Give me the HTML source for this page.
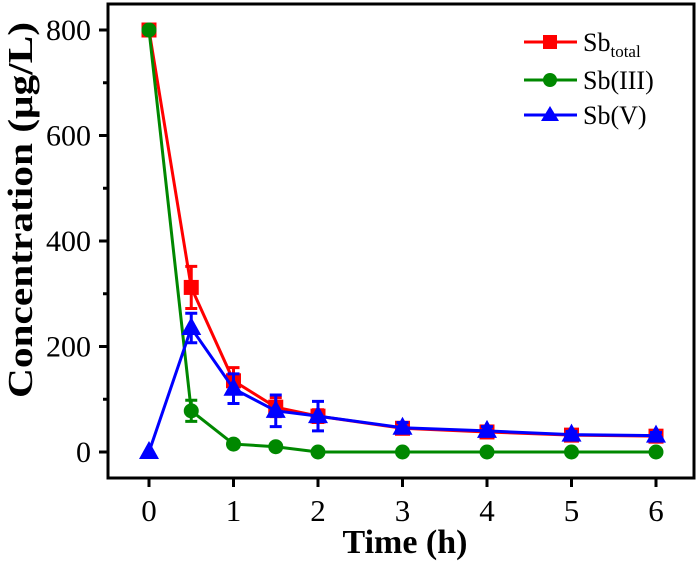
<!DOCTYPE html>
<html><head><meta charset="utf-8"><style>
body{margin:0;background:#fff}
svg{display:block;font-family:"Liberation Serif",serif}
</style></head><body>
<svg width="700" height="562">
<g id="plot"></g>
<rect x="108" y="4" width="586" height="474" fill="none" stroke="#000" stroke-width="3"/>
<g id="axes"></g>
<text x="405" y="553" text-anchor="middle" font-size="34" font-weight="bold">Time (h)</text>
<text transform="translate(32,210) rotate(-90)" text-anchor="middle" font-size="35" font-weight="bold" textLength="376" lengthAdjust="spacingAndGlyphs">Concentration (μg/L)</text>
<g>
<g>
<line x1="524" y1="42" x2="577" y2="42" stroke="#f00" stroke-width="3"/><rect x="543" y="35" width="14" height="14" fill="#f00"/>
<text x="583" y="51" font-size="26">Sb<tspan font-size="17" dy="6">total</tspan></text></g>
<g>
<line x1="524" y1="80" x2="577" y2="80" stroke="#080" stroke-width="3"/><circle cx="550" cy="80" r="7" fill="#080"/>
<text x="583" y="89" font-size="26">Sb(III)</text></g>
<g>
<line x1="524" y1="115" x2="577" y2="115" stroke="#00f" stroke-width="3"/><polygon points="550,106 559,121 541,121" fill="#00f"/>
<text x="583" y="124" font-size="26">Sb(V)</text></g>
</g>
</svg>
<script>
const times=[0,0.5,1,1.5,2,3,4,5,6];
const sbTotal=[800,312,135,85,68,45,38,32,30];
const sbTotalErr=[0,40,25,18,12,8,8,6,6];
const sb3=[800,78,15,10,0,0,0,0,0];
const sb3Err=[0,20,4,3,0,0,0,0,0];
const sb5=[0,235,120,78,68,46,40,33,31];
const sb5Err=[0,28,28,30,28,10,8,6,6];
const xTicks=[0,1,2,3,4,5,6];
const yTicks=[0,200,400,600,800];
const NS="http://www.w3.org/2000/svg";
const X=v=>149+v*84.5, Y=v=>452-v*0.5275;
function mk(tag,attrs,parent){const e=document.createElementNS(NS,tag);for(const k in attrs)e.setAttribute(k,attrs[k]);parent.appendChild(e);return e;}
const axes=document.getElementById('axes'), plot=document.getElementById('plot');
xTicks.forEach(t=>{
 const l=mk('line',{x1:X(t),x2:X(t),y1:478,y2:487,stroke:'#000','stroke-width':3},axes);
 
 
 const tx=mk('text',{x:X(t),y:521,'text-anchor':'middle','font-size':31},axes);tx.textContent=t;
 
 
});
for(let v=0;v<=800;v+=100){
 const major=v%200===0;
 const l=mk('line',{x1:major?99:103,x2:108,y1:Y(v),y2:Y(v),stroke:'#000','stroke-width':3},axes);
 
 
}
yTicks.forEach(t=>{
 const tx=mk('text',{x:91,y:Y(t)+10,'text-anchor':'end','font-size':30},axes);tx.textContent=t;
 
 
});
function series(name,vals,errs,color,marker){
 const g=mk('g',{},plot);
 
 
 mk('polyline',{points:times.map((t,i)=>X(t)+','+Y(vals[i])).join(' '),fill:'none',stroke:color,'stroke-width':3},g);
 times.forEach((t,i)=>{
  const x=X(t),y=Y(vals[i]);
  if(errs[i]>0){const e=errs[i];
   mk('path',{d:`M${x},${Y(vals[i]+e)}V${Y(vals[i]-e)}M${x-6},${Y(vals[i]+e)}H${x+6}M${x-6},${Y(vals[i]-e)}H${x+6}`,stroke:color,'stroke-width':3,fill:'none'},g);}
  let m;
  if(marker==='sq')m=mk('rect',{x:x-7.5,y:y-7.5,width:15,height:15,fill:color},g);
  else if(marker==='c')m=mk('circle',{cx:x,cy:y,r:7.5,fill:color},g);
  else m=mk('polygon',{points:`${x},${y-11} ${x+10},${y+7} ${x-10},${y+7}`,fill:color},g);
  
  
 });
}
series('sb-total',sbTotal,sbTotalErr,'#f00','sq');
series('sb3',sb3,sb3Err,'#080','c');
series('sb5',sb5,sb5Err,'#00f','t');
</script>
</body></html>
